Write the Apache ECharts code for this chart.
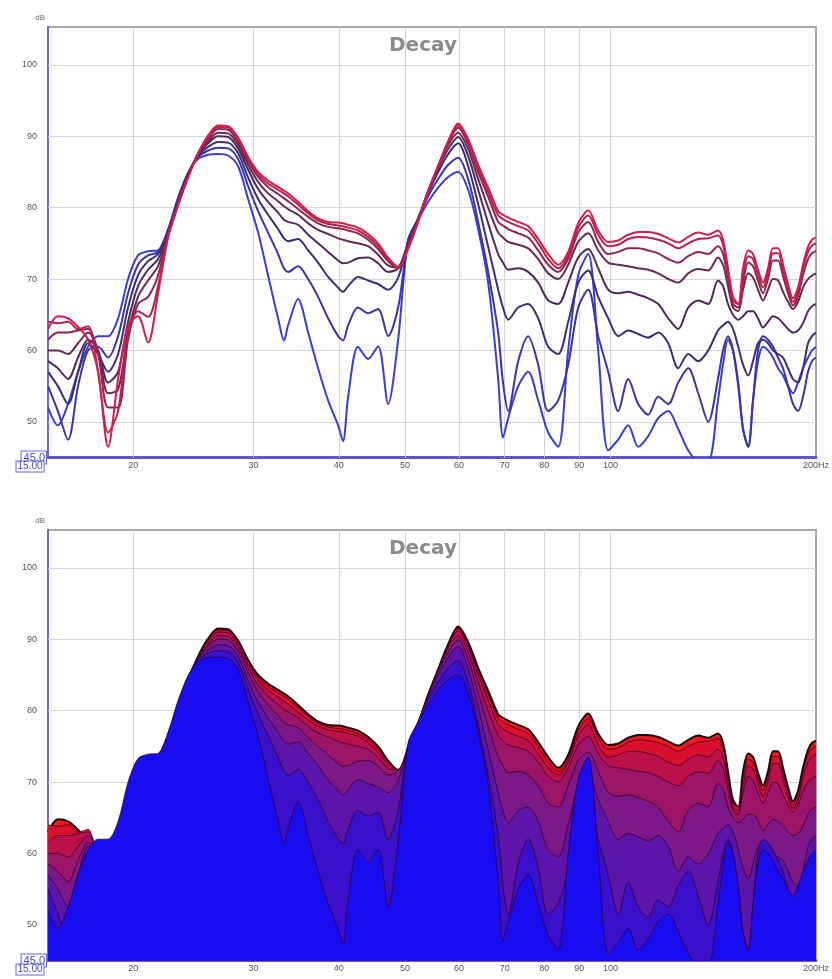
<!DOCTYPE html>
<html><head><meta charset="utf-8">
<script src="https://cdn.jsdelivr.net/npm/echarts@6/dist/echarts.min.js"></script>
<style>html,body{margin:0;padding:0;background:#fff}#chart{width:832px;height:979px}</style>
</head><body><div id="chart"></div>
<script>
const freqHz = [15.00,15.51,16.05,16.60,17.17,17.76,18.37,19.00,19.65,20.32,
21.02,21.74,22.49,23.26,24.06,24.88,25.74,26.62,27.53,28.48,
29.46,30.47,31.51,32.59,33.25,33.71,34.87,36.07,37.30,38.58,
39.91,40.57,41.28,42.67,44.16,45.67,47.24,48.86,50.54,52.27,
54.06,55.92,57.84,59.82,61.88,64.00,66.20,68.47,69.59,70.82,
73.25,75.76,78.36,81.05,83.83,86.71,89.68,92.76,95.94,99.24,
102.64,106.16,109.80,113.57,117.47,121.50,125.67,129.98,134.44,139.06,
143.70,146.16,148.64,151.17,153.87,156.36,159.15,161.72,164.48,167.27,
170.12,173.01,175.96,178.94,182.00,185.08,188.24,191.43,194.70,197.34,200.00];

const slice0 = [63.0,64.8,64.5,63.3,61.5,57.0,46.5,56.0,63.5,64.8,
61.1,68.0,75.8,80.3,84.2,87.6,90.1,91.5,91.4,89.8,
87.1,85.0,83.8,82.9,82.4,82.0,80.8,79.5,78.5,78.0,
77.9,77.8,77.6,77.2,76.3,75.0,73.0,71.7,74.2,78.0,
82.2,85.8,89.3,91.8,89.6,86.0,82.8,79.5,79.0,78.6,
78.0,77.4,75.6,73.5,72.0,73.8,77.8,79.6,76.8,75.2,
75.4,76.2,76.6,76.6,76.3,75.7,75.1,75.9,76.5,76.2,
76.8,75.5,71.5,67.5,66.5,71.5,74.0,73.5,71.3,69.5,
71.5,74.3,74.3,72.0,69.3,67.3,68.8,72.0,74.5,75.5,75.8];
const slice1 = [64.0,63.8,64.0,63.0,63.4,57.0,48.5,51.5,62.5,65.5,
64.7,69.0,76.0,80.4,84.3,87.6,89.9,91.3,91.2,89.6,
86.9,84.7,83.4,82.5,82.0,81.6,80.4,79.2,78.2,77.7,
77.5,77.4,77.2,76.8,75.9,74.6,72.8,71.7,74.4,78.1,
82.3,85.8,89.2,91.5,89.3,85.5,82.2,78.9,78.4,78.0,
77.4,76.8,75.0,72.8,71.5,73.3,77.2,78.9,76.2,74.6,
74.8,75.6,75.9,75.8,75.5,75.0,74.3,75.0,75.6,75.7,
76.1,74.8,71.0,67.0,66.5,70.5,73.2,72.8,70.6,68.8,
70.8,73.6,73.6,71.3,68.7,66.8,68.3,71.4,73.8,74.7,75.0];
const slice2 = [61.5,62.5,62.5,62.8,63.0,59.5,52.0,52.0,61.5,66.5,
67.5,70.5,76.2,80.5,84.4,87.6,89.6,91.0,90.9,89.2,
86.5,84.3,82.9,81.9,81.3,80.9,79.8,78.7,77.8,77.3,
77.1,77.0,76.8,76.4,75.5,74.2,72.5,71.6,74.6,78.2,
82.3,85.8,89.1,91.2,88.9,85.0,81.5,78.0,77.5,77.0,
76.4,75.8,74.0,72.0,71.0,72.8,76.5,78.0,75.2,73.5,
73.8,74.3,74.3,74.0,73.6,72.8,72.3,73.2,73.8,73.5,
74.6,73.5,70.2,66.5,66.0,69.5,72.3,71.8,69.8,68.0,
70.0,72.6,72.6,70.4,68.0,66.3,67.6,70.6,72.8,73.6,73.9];
const slice3 = [60.0,60.0,59.5,61.0,62.5,60.0,54.0,54.5,62.5,67.5,
69.8,71.8,76.3,80.6,84.5,87.5,89.3,90.5,90.4,88.8,
86.0,83.6,82.0,80.9,80.2,79.8,79.0,77.8,76.9,76.3,
75.7,75.5,75.3,75.0,74.6,73.4,71.9,71.6,74.8,78.3,
82.3,85.7,88.8,90.5,88.2,84.0,80.0,76.5,75.8,75.2,
74.8,74.3,72.8,70.8,70.0,72.0,75.2,76.4,74.0,72.3,
72.0,71.8,71.5,71.3,70.8,70.0,69.5,70.8,71.4,71.2,
73.0,72.0,69.0,66.0,65.5,68.5,70.8,70.2,68.5,67.0,
68.5,70.0,69.8,68.2,66.8,65.8,66.8,68.8,70.0,70.5,70.8];
const slice4 = [58.5,57.5,56.0,59.0,61.5,60.0,55.5,57.0,64.0,69.0,
71.3,72.8,76.4,80.8,84.6,87.4,89.0,90.0,89.9,88.3,
85.3,82.6,80.8,79.3,78.3,78.0,77.6,76.2,75.0,73.8,
72.6,72.2,72.3,72.9,73.0,72.2,71.0,71.5,75.0,78.4,
82.2,85.5,88.2,89.9,87.2,82.5,77.8,73.5,72.3,71.3,
71.5,71.0,69.5,67.0,66.5,69.5,73.0,74.2,71.5,68.5,
68.0,68.2,67.8,67.3,66.5,64.5,63.0,66.0,67.0,66.5,
69.8,69.0,66.5,65.0,64.3,64.8,65.5,65.5,64.5,63.2,
64.0,64.8,64.5,63.8,63.0,62.5,62.8,63.8,65.5,66.2,66.5];
const slice5 = [57.0,55.0,52.5,57.0,61.0,59.5,57.0,59.5,66.0,70.5,
72.5,73.5,76.6,81.0,84.7,87.3,88.5,89.2,89.1,87.6,
84.2,81.2,79.0,77.0,75.7,75.3,75.6,74.0,72.3,70.3,
68.8,68.2,69.0,70.3,69.8,69.3,68.5,70.2,75.2,78.5,
82.0,85.0,87.5,89.0,85.8,80.5,74.5,68.5,66.0,64.3,
66.0,66.5,64.5,60.5,59.5,64.0,69.5,71.2,67.5,64.5,
62.0,62.8,62.3,61.8,62.5,61.0,57.5,59.5,58.5,60.0,
62.8,63.5,64.0,63.0,60.5,58.0,56.5,58.5,61.0,61.5,
61.0,60.0,59.5,59.0,57.5,56.0,55.5,57.5,61.0,62.0,62.5];
const slice6 = [55.0,51.5,47.5,55.0,60.0,60.5,59.0,62.0,68.0,72.0,
73.3,73.8,76.8,81.2,84.8,87.1,88.0,88.4,88.3,86.8,
83.0,79.5,76.5,73.5,71.5,71.0,71.8,70.0,67.5,64.5,
62.0,61.4,63.5,66.0,65.2,65.8,62.0,66.0,75.4,78.5,
81.6,84.0,86.0,87.0,84.0,78.0,71.0,62.5,55.5,51.5,
58.5,62.0,58.0,51.5,53.0,58.0,66.0,68.5,62.0,57.0,
51.5,56.0,52.5,51.0,53.5,52.5,55.5,57.5,54.0,50.0,
56.0,60.0,62.0,60.0,55.0,49.0,46.5,53.0,60.0,62.0,
61.5,60.5,59.0,57.5,55.0,52.5,51.5,53.5,57.0,58.5,59.0];
const slice7 = [52.0,49.5,52.5,57.0,60.5,62.0,62.0,64.5,70.0,73.3,
73.9,74.0,77.0,81.4,84.9,86.8,87.4,87.5,87.3,85.8,
81.2,76.5,70.5,64.5,61.4,63.5,67.2,62.5,57.5,53.0,
49.5,47.3,53.5,60.5,58.8,60.6,52.5,61.5,75.5,78.3,
80.8,82.8,84.3,85.0,82.5,77.0,69.5,56.0,47.8,50.5,
55.0,57.0,53.0,48.5,46.5,60.0,70.5,73.5,60.0,46.0,
47.5,49.5,46.5,48.0,50.5,51.5,49.0,46.0,44.5,44.5,
53.0,58.0,61.5,60.0,55.5,49.0,46.5,53.0,58.5,60.5,
60.0,59.0,57.5,56.5,55.0,54.0,55.5,57.5,59.0,60.0,60.5];

const slices = [slice0, slice1, slice2, slice3, slice4, slice5, slice6, slice7];
const xTickValues = [15, 20, 30, 40, 50, 60, 70, 80, 90, 100, 200];
const yTickValues = [45, 50, 60, 70, 80, 90, 100];
const xGridValues = [20, 30, 40, 50, 60, 70, 80, 90, 100];
const yGridValues = [50, 60, 70, 80, 90, 100];
const titleText = 'Decay';

const lineColors = ['#d41c48', '#b82050', '#8e2452', '#6a2852', '#4e2a5a', '#3e2c78', '#3a34aa', '#3c3cd6'];
const fillColors = ['#f01818', '#d8102e', '#bc104a', '#9c1468', '#7c1888', '#5c14aa', '#3a10cc', '#1a0cf0'];

const chart = echarts.init(document.getElementById('chart'), null, {renderer: 'canvas'});

const grids = [
  {left: 48, top: 27, width: 768, height: 430.5},
  {left: 48, top: 530, width: 768, height: 430.5}
];

function xAxisFor(i) {
  return {
    type: 'log', logBase: 10, min: 15, max: 200, gridIndex: i,
    axisLine: {show: true, onZero: false, lineStyle: {color: '#5a5ad4', width: 3}},
    axisTick: {show: false},
    splitLine: {show: false},
    minorSplitLine: {show: false},
    axisLabel: {
      customValues: xTickValues, margin: 4, fontSize: 9, color: '#555',
      fontFamily: 'Liberation Sans, Arial, sans-serif',
      formatter: function (v) {
        const r = Math.round(v);
        if (r === 15) return '{box|15.00}{sp|}';
        if (r === 200) return '200Hz';
        return String(r);
      },
      rich: {
        box: {borderColor: '#6a6ad8', borderWidth: 1, color: '#4a4ac8', fontSize: 10, padding: [0, 1, 0, 1], backgroundColor: '#fff'},
        sp: {width: 36}
      }
    }
  };
}
function yAxisFor(i) {
  return {
    type: 'value', min: 45, max: 105.3, gridIndex: i,
    name: 'dB', nameLocation: 'end', nameGap: 5,
    nameTextStyle: {fontSize: 8, color: '#666', align: 'right', padding: [0, 3, 0, 0]},
    axisLine: {show: true, onZero: false, lineStyle: {color: '#6a6ad2', width: 2}},
    axisTick: {show: false},
    splitLine: {show: false},
    axisLabel: {
      customValues: yTickValues, margin: 2, fontSize: 9, color: '#555',
      fontFamily: 'Liberation Sans, Arial, sans-serif',
      formatter: function (v) {
        const r = Math.round(v);
        if (r === 45) return '{box|45.0}';
        return '{t|' + r + '}{sp|}';
      },
      rich: {
        box: {borderColor: '#6a6ad8', borderWidth: 1, color: '#4a4ac8', fontSize: 11, padding: [1, 1, 0, 2], backgroundColor: '#fff'},
        t: {fontSize: 9, color: '#555'},
        sp: {width: 9}
      }
    }
  };
}

function gridLinesSeries(i) {
  return {
    type: 'line', xAxisIndex: i, yAxisIndex: i, data: [], silent: true, z: 1,
    markLine: {
      silent: true, symbol: ['none', 'none'], animation: false, z: 1,
      label: {show: false},
      lineStyle: {color: '#d4d4d4', width: 1, type: 'solid'},
      emphasis: {disabled: true},
      data: xGridValues.map(v => ({xAxis: v})).concat(yGridValues.map(v => ({yAxis: v})))
    }
  };
}

const series = [gridLinesSeries(0), gridLinesSeries(1)];

// top panel: overlaid lines, blue first, red on top
for (let k = slices.length - 1; k >= 0; k--) {
  series.push({
    type: 'line', xAxisIndex: 0, yAxisIndex: 0, z: 6,
    data: freqHz.map((f, j) => [f, slices[k][j]]),
    showSymbol: false, smooth: 0.3, clip: true,
    lineStyle: {color: lineColors[k], width: 2},
    emphasis: {disabled: true}
  });
}
// bottom panel: filled slices, red at back, blue in front (each slice on its own layer)
for (let k = 0; k < slices.length; k++) {
  series.push({
    type: 'line', xAxisIndex: 1, yAxisIndex: 1, z: 6 + k,
    data: freqHz.map((f, j) => [f, slices[k][j]]),
    showSymbol: false, smooth: 0.3, clip: true,
    lineStyle: {color: k === 0 ? '#1a0a10' : 'rgba(40,0,30,0.7)', width: k === 0 ? 2 : 1},
    areaStyle: {color: fillColors[k], opacity: 1, origin: 'start'},
    emphasis: {disabled: true}
  });
}

chart.setOption({
  animation: false,
  backgroundColor: '#fff',
  title: [
    {text: titleText, left: 384, top: 31, z: 20, textStyle: {fontSize: 20, fontWeight: 'bold', color: '#8a8a8a', fontFamily: 'DejaVu Sans, sans-serif'}},
    {text: titleText, left: 384, top: 534, z: 20, textStyle: {fontSize: 20, fontWeight: 'bold', color: '#8a8a8a', fontFamily: 'DejaVu Sans, sans-serif'}}
  ],
  grid: grids.map(g => Object.assign({show: true, borderColor: '#a8a8a8', borderWidth: 2, backgroundColor: '#fff'}, g)),
  xAxis: [xAxisFor(0), xAxisFor(1)],
  yAxis: [yAxisFor(0), yAxisFor(1)],
  series: series
});
</script></body></html>
